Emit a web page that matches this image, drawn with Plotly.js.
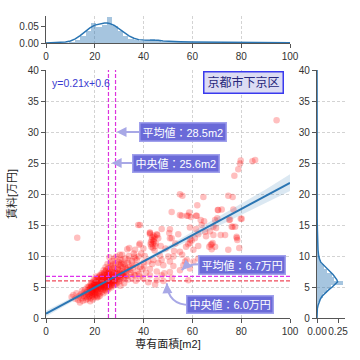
<!DOCTYPE html>
<html><head><meta charset="utf-8">
<script src="https://cdn.plot.ly/plotly-3.0.1.min.js"></script>
<style>html,body{margin:0;padding:0;background:#fff}#c{width:360px;height:360px}</style>
</head><body><div id="c"></div>
<script>
// Scatter points [area m2, rent 万円]
const densePts = [[10.5,3.4],[11.2,3.7],[12.0,3.1],[12.5,4.0],[13.2,2.9],[13.5,3.5],[13.9,2.5],[14.2,3.8],[14.6,3.2],[14.8,4.4],[15.1,2.8],[15.3,3.6],[15.5,4.1],[15.8,3.3],[16.0,4.6],[16.2,3.9],[16.4,2.9],[16.6,3.5],[16.8,4.2],[17.0,5.0],
[17.1,3.1],[17.3,3.8],[17.5,4.5],[17.6,3.4],[17.8,4.0],[17.9,5.2],[18.0,3.6],[18.2,4.3],[18.3,4.9],[18.4,3.2],[18.5,5.5],[18.7,4.1],[18.8,3.7],[18.9,4.6],[19.0,5.0],[19.1,3.5],[19.2,4.4],[19.3,5.8],[19.4,3.9],[19.5,4.8],
[19.6,5.3],[19.7,4.2],[19.8,3.4],[19.9,4.9],[20.0,5.6],[20.0,4.0],[20.1,6.1],[20.2,4.5],[20.3,3.8],[20.4,5.1],[20.5,4.7],[20.6,5.9],[20.7,4.3],[20.8,5.4],[20.9,3.6],[21.0,5.0],[21.1,6.3],[21.2,4.6],[21.3,5.7],[21.4,4.1],
[21.5,5.2],[21.6,6.6],[21.7,4.8],[21.8,5.5],[21.9,3.9],[22.0,6.0],[22.1,5.1],[22.2,4.4],[22.3,6.8],[22.4,5.3],[22.5,4.7],[22.6,5.9],[22.7,6.4],[22.8,5.0],[22.9,4.2],[23.0,5.6],[23.1,7.0],[23.2,5.2],[23.3,6.1],[23.4,4.6],
[23.5,5.8],[23.6,6.7],[23.7,5.4],[23.8,4.9],[23.9,7.3],[24.0,6.2],[24.1,5.5],[24.2,4.5],[24.3,6.5],[24.4,5.9],[24.5,7.6],[24.6,5.1],[24.7,6.0],[24.8,6.9],[24.9,5.3],[25.0,6.3],[25.1,4.8],[25.2,7.1],[25.3,5.7],[25.4,6.6],
[25.5,8.0],[25.6,6.0],[25.7,5.4],[25.8,7.4],[25.9,6.2],[26.0,5.0],[26.1,6.8],[26.2,5.8],[26.3,7.7],[26.4,6.4],[26.5,5.5],[26.6,8.3],[26.7,6.1],[26.8,7.0],[26.9,5.2],[27.0,6.6],[27.1,7.9],[27.2,5.9],[27.3,6.9],[27.4,8.6],
[27.5,6.3],[27.6,5.6],[27.7,7.2],[27.8,6.0],[27.9,8.1],[28.0,6.7],[28.2,7.5],[28.4,5.8],[28.6,8.8],[28.8,6.5],[29.0,7.3],[29.2,6.2],[29.4,8.0],[29.6,7.0],[29.8,9.0],[30.0,6.8],[30.2,7.8],[30.4,6.4],[30.6,8.4],[30.8,7.1],
[31.0,9.3],[31.3,7.6],[31.6,6.9],[31.9,8.7],[32.2,7.4],[32.5,9.6],[32.8,8.0],[33.1,6.8],[33.4,8.9],[33.7,7.7],[34.0,10.0],[34.4,8.3],[34.8,7.3],[35.2,9.2],[35.6,8.1],[36.0,7.0],[36.5,9.6],[37.0,8.5],[37.5,7.6],[38.0,9.9],
[38.5,8.2],[39.0,10.4],[39.5,7.9],[40.0,9.0]];
const corePts = [[18.1,4.7],[18.6,5.1],[19.2,3.0],[19.7,5.6],[20.3,4.9],[20.8,3.3],[21.2,5.4],[21.7,6.0],[22.1,3.6],[22.6,4.9],[23.0,6.6],[23.5,4.0],[23.9,5.1],[24.3,5.7],[24.7,4.3],[25.1,5.9],[25.5,4.6],[25.9,7.0],[26.3,5.3],[26.7,4.9],
[27.1,6.3],[27.5,7.4],[27.9,5.3],[28.3,6.1],[28.7,7.1],[29.1,5.6],[29.5,6.6],[29.9,5.9],[30.3,7.3],[30.7,6.1],[31.1,7.0],[31.5,8.2],[31.9,6.4],[32.3,8.5],[32.7,7.0],[33.2,7.9],[33.8,9.4],[34.6,7.8],[35.4,8.6],[36.2,9.9],
[17.4,4.9],[18.1,2.7],[19.0,4.1],[19.9,5.3],[20.6,4.4],[21.4,3.4],[22.2,5.7],[22.9,5.4],[23.7,6.3],[24.5,4.9],[25.3,6.7],[26.1,5.6],[26.9,6.0],[27.7,6.6],[28.5,5.5],[29.3,7.9],[30.1,6.3],[30.9,8.8],[31.7,7.2],[32.5,6.6],
[24.0,7.0],[24.8,7.8],[25.6,7.3],[26.4,8.8],[27.2,9.2],[28.0,9.6],[28.8,9.9],[29.6,8.6],[30.4,9.4],[31.2,10.2],[26.0,9.8],[25.2,8.7],[24.4,8.2],[23.6,7.7],[22.8,7.2],[22.0,6.9],[21.2,6.4],[20.4,6.7],[19.6,6.2],[18.8,5.7]];
const edgePts = [[30.5,5.2],[32.0,5.6],[33.5,6.2],[35.0,6.6],[36.8,6.0],[38.2,7.1],[39.8,6.4],[41.0,7.3],[42.6,6.9],[41.9,5.75],[44.7,5.4],[45.4,6.1],[48.1,5.95],[47.4,6.9],[42.6,7.9],[45.4,7.5],[50.8,7.4],[54.9,7.7],[58.3,6.1],[38.5,6.7],[36.5,6.9],
[48.5,7.2],[51.6,6.5],[40.2,8.3],[43.5,8.7],[46.0,8.9]];
const sparsePts = [[38.2,11.8],[39.9,11.2],[36.5,11.0],[33.3,11.1],[34.1,11.3],[30.3,10.2],[36.0,10.4],[37.2,9.35],[42.6,13.5],[43.3,12.6],[43.7,11.9],[42.9,11.9],[45.6,13.4],[46.0,12.85],[42.6,13.8],[43.5,13.0],[44.2,12.3],[44.8,11.6],[43.0,12.2],[44.0,13.3],[45.0,12.0],[44.5,10.9],[43.8,11.3],
[44.3,12.8],[43.9,12.5],[44.6,13.1],[43.2,11.5],
[50.8,14.3],[47.4,14.35],[54.2,13.5],[50.5,13.7],[50.8,12.85],[61.5,14.35],[62.4,13.5],[67.2,14.0],[67.9,11.9],[69.3,11.5],[67.9,11.1],[58.3,11.9],[57.4,11.5],[54.9,10.7],[52.2,9.9],[50.1,9.9],[46.7,10.05],[47.4,9.35],[44.0,9.35],[41.9,9.1],[50.8,9.1],[57.0,9.1],[48.1,8.5],[52.2,8.4],[60.4,9.1],[62.4,9.6],[57.7,9.35],[56.3,8.5],[59.0,8.0],
[37.8,15.0],[38.5,12.0],[12.8,12.95],[51.5,17.1],[54.9,16.6],[57.7,16.5],[55.6,16.5],[58.3,16.5],[58.7,17.0],[61.5,16.5],[64.8,15.6],[70.2,16.1],[59.0,14.6],[63.4,15.8],[65.2,13.9],[68.6,13.4],[69.7,14.5],[73.4,13.4],[76.5,14.7],[78.2,12.9],[80.2,16.0],[76.8,17.5],[70.4,17.4],[75.1,15.8],[63.8,15.0],[68.6,14.7],[71.6,13.4],[65.6,13.2],[59.0,12.7],[59.7,12.5],[59.0,12.1],[62.4,11.6],[68.3,12.1],[67.5,11.8],[66.9,11.5],[78.1,13.1],[78.4,12.6],[74.7,11.0],[79.2,11.3],[60.4,11.0],[61.0,12.85],
[54.9,19.95],[55.9,19.7],[64.5,19.5],[74.7,19.7],[76.5,19.5],[62.0,18.2],[70.6,17.4],[61.8,16.5],[69.3,15.8],[75.4,15.9],[79.8,16.0],[76.1,14.7],[77.5,14.7],[59.4,16.3],[72.0,17.5],
[79.8,25.4],[79.5,24.9],[84.6,25.3],[85.7,25.5],[78.8,24.0],[77.2,22.95],[94.5,31.9],
[42.6,13.7],[45.4,13.5],[38.5,15.0],[51.5,12.85],[53.0,12.0],[49.0,11.2],[47.0,11.6],[40.5,10.0],[52.5,10.8],[55.8,10.2]];

// Regression line and 95% band
const lineX = [0, 100];
const lineY = [0.7, 21.8];
const bandX = [0, 10, 20, 30, 40, 50, 60, 70, 80, 90, 100];
const bandUpper = [1.15, 3.13, 5.12, 7.18, 9.36, 11.63, 13.89, 16.17, 18.44, 20.72, 23.2];
const bandLower = [0.25, 2.49, 4.72, 6.88, 8.92, 10.87, 12.83, 14.77, 16.72, 18.66, 20.5];

// Top marginal: histogram (bin centers, density) and KDE of area
const topBinCenters = [10.7,12.9,15.1,17.3,19.5,21.7,23.9,26.1,28.3,30.5,32.7,34.9,37.1,39.3,41.5,43.7,45.9,48.1,50.3,52.5,54.7,56.9,59.1,61.3,63.5,65.7,67.9,70.1,72.3,74.5,76.7,78.9,83.3,85.5,94.3];
const topBinHeights = [0.003,0.008,0.02,0.035,0.06,0.048,0.052,0.077,0.05,0.035,0.022,0.012,0.008,0.006,0.009,0.013,0.006,0.004,0.004,0.003,0.004,0.004,0.004,0.004,0.003,0.002,0.003,0.003,0.001,0.002,0.003,0.003,0.001,0.002,0.001];
const kdeTopX = [0,5,8,10,12,14,16,18,20,22,24,25,26,28,30,32,34,36,38,40,42,44,46,48,50,55,60,65,70,75,80,85,90,95,100];
const kdeTopY = [0.0003,0.001,0.003,0.006,0.012,0.022,0.034,0.045,0.053,0.057,0.059,0.059,0.058,0.052,0.042,0.031,0.021,0.014,0.010,0.009,0.009,0.009,0.008,0.006,0.005,0.004,0.003,0.003,0.0025,0.002,0.002,0.0015,0.001,0.001,0.0008];

// Right marginal: histogram and KDE of rent
const rightBinCenters = [2.3,2.97,3.63,4.3,4.97,5.63,6.3,6.97,7.63,8.3,8.97,9.63,10.3,10.97,11.63,12.3,12.97,13.63,14.3,14.97,15.63,16.3,16.97,17.63,19.63,22.97,24.97,25.63,31.97];
const rightBinHeights = [0.015,0.04,0.07,0.12,0.17,0.31,0.2,0.18,0.12,0.08,0.045,0.03,0.015,0.012,0.01,0.008,0.008,0.007,0.005,0.004,0.004,0.004,0.004,0.003,0.003,0.001,0.002,0.002,0.001];
const kdeRightY = [0,1,1.5,2,2.5,3,3.5,4,4.5,5,5.5,5.85,6.2,6.6,7,7.5,8,8.5,9,9.5,10,11,12,13,14,15,16,18,20,25,30,35,40];
const kdeRightX = [0,0.001,0.004,0.012,0.022,0.038,0.06,0.095,0.135,0.18,0.225,0.245,0.235,0.215,0.19,0.155,0.115,0.075,0.045,0.03,0.02,0.012,0.008,0.006,0.004,0.003,0.002,0.0015,0.001,0.0007,0.0005,0.0002,0.0001];

// Statistics
const meanArea = 28.5, medianArea = 25.6, meanRent = 6.7, medianRent = 6.0;
const eqText = 'y=0.21x+0.6';
const areaName = '京都市下京区';

const allPts = densePts.concat(corePts, edgePts, sparsePts);
const blue = '#2a75b3';
const histCol = 'rgba(42,117,179,0.42)';

const traces = [
  {type:'scatter', mode:'markers', x:allPts.map(p=>p[0]), y:allPts.map(p=>p[1]), xaxis:'x', yaxis:'y',
   marker:{size:6.5, color:'rgba(255,0,0,0.25)', line:{width:0}}, hoverinfo:'skip'},
  {type:'scatter', mode:'lines', x:bandX, y:bandLower, line:{width:0}, xaxis:'x', yaxis:'y', hoverinfo:'skip'},
  {type:'scatter', mode:'lines', x:bandX, y:bandUpper, line:{width:0}, fill:'tonexty', fillcolor:'rgba(42,117,179,0.17)', xaxis:'x', yaxis:'y', hoverinfo:'skip'},
  {type:'scatter', mode:'lines', x:lineX, y:lineY, line:{color:blue, width:2}, xaxis:'x', yaxis:'y'},
  {type:'bar', x:topBinCenters, y:topBinHeights, width:2.2, marker:{color:histCol, line:{width:0}}, xaxis:'x2', yaxis:'y2'},
  {type:'scatter', mode:'lines', x:kdeTopX, y:kdeTopY, line:{color:blue, width:1.5}, xaxis:'x2', yaxis:'y2'},
  {type:'bar', orientation:'h', y:rightBinCenters, x:rightBinHeights, width:0.667, marker:{color:histCol, line:{width:0}}, xaxis:'x3', yaxis:'y3'},
  {type:'scatter', mode:'lines', x:kdeRightX, y:kdeRightY, line:{color:blue, width:1.5}, xaxis:'x3', yaxis:'y3'}
];

const axCommon = {showline:true, linecolor:'#555', linewidth:1.2, ticks:'outside', ticklen:4, tickcolor:'#555', zeroline:false,
  gridcolor:'#c8c8c8', griddash:'3px,2px', gridwidth:0.8, tickfont:{size:10, color:'#333'}, tickangle:0};
const mainXd = [46/360, 290/360];
const mainYd = [1-318/360, 1-70/360];

const layout = {
  width:360, height:360, margin:{l:0,r:0,t:0,b:0},
  paper_bgcolor:'#ffffff', plot_bgcolor:'#ffffff', showlegend:false, bargap:0,
  font:{family:'Liberation Sans, Noto Sans CJK JP, sans-serif', size:10, color:'#333'},
  xaxis:Object.assign({}, axCommon, {domain:mainXd, range:[0,100], anchor:'y', dtick:20, showgrid:true,
    title:{text:'専有面積[m2]', font:{size:11, color:'#222'}, standoff:4}}),
  yaxis:Object.assign({}, axCommon, {domain:mainYd, range:[0,40], anchor:'x', dtick:5, showgrid:true,
    title:{text:'賃料[万円]', font:{size:11, color:'#222'}, standoff:8}}),
  xaxis2:Object.assign({}, axCommon, {domain:mainXd, range:[0,100], anchor:'y2', dtick:20, showgrid:true}),
  yaxis2:Object.assign({}, axCommon, {domain:[1-43/360, 1-16/360], range:[0,0.08], anchor:'x2', tickvals:[0,0.05], tickformat:'.2f', showgrid:false}),
  xaxis3:Object.assign({}, axCommon, {domain:[317/360, 345/360], range:[0,0.333], anchor:'y3', tickvals:[0,0.25], tickformat:'.2f', showgrid:false, tickangle:0}),
  yaxis3:Object.assign({}, axCommon, {domain:mainYd, range:[0,40], anchor:'x3', dtick:5, showgrid:true}),
  shapes:[
    {type:'line', xref:'x', yref:'y', x0:medianArea, x1:medianArea, y0:0, y1:40, line:{color:'#dd33dd', width:1.2, dash:'4px,2px'}},
    {type:'line', xref:'x', yref:'y', x0:meanArea, x1:meanArea, y0:0, y1:40, line:{color:'#dd33dd', width:1.2, dash:'4px,2px'}},
    {type:'line', xref:'x', yref:'y', x0:0, x1:100, y0:meanRent, y1:meanRent, line:{color:'#dd33ee', width:1.2, dash:'4px,2px'}},
    {type:'line', xref:'x', yref:'y', x0:0, x1:100, y0:medianRent, y1:medianRent, line:{color:'#f04a5a', width:1.2, dash:'4px,2px'}},
    {type:'path', xref:'x', yref:'y', path:'M 63.1,8.66 Q 58.2,8.71 55.6,7.74', line:{color:'#a8a8e6', width:2}},
    {type:'path', xref:'x', yref:'y', path:'M 59.0,2.10 Q 50.0,2.10 49.5,5.6', line:{color:'#a8a8e6', width:2}}
  ],
  annotations:[
    {xref:'x', yref:'y', x:1.6, y:37.9, xanchor:'left', yanchor:'middle', text:eqText, showarrow:false, font:{size:10.5, color:'#3a3ad0'}},
    {xref:'x', yref:'y', x:81.1, y:37.95, text:areaName, showarrow:false, font:{size:12, color:'#26267a'},
     bgcolor:'#dcdcf3', bordercolor:'#3a3aee', borderwidth:1.5, borderpad:3},
    {xref:'x', yref:'y', x:28.9, y:30, ax:66, ay:0, text:'平均値：28.5m2', showarrow:true, arrowhead:2, arrowsize:1, arrowwidth:2, arrowcolor:'#a8a8e6',
     font:{size:11, color:'#ffffff'}, bgcolor:'#6a6ad8', bordercolor:'#a0a0ec', borderwidth:1.5, borderpad:2},
    {xref:'x', yref:'y', x:26.9, y:25, ax:64, ay:0, text:'中央値：25.6m2', showarrow:true, arrowhead:2, arrowsize:1, arrowwidth:2, arrowcolor:'#a8a8e6',
     font:{size:11, color:'#ffffff'}, bgcolor:'#6a6ad8', bordercolor:'#a0a0ec', borderwidth:1.5, borderpad:2},
    {xref:'x', yref:'y', x:80.2, y:8.6, text:'平均値：6.7万円', showarrow:false,
     font:{size:11, color:'#ffffff'}, bgcolor:'#6a6ad8', bordercolor:'#a0a0ec', borderwidth:1.5, borderpad:2},
    {xref:'x', yref:'y', x:75.4, y:2.2, text:'中央値：6.0万円', showarrow:false,
     font:{size:11, color:'#ffffff'}, bgcolor:'#6a6ad8', bordercolor:'#a0a0ec', borderwidth:1.5, borderpad:2},
    {xref:'x', yref:'y', x:55.6, y:7.74, ax:7, ay:-6.6, text:'', showarrow:true, arrowhead:2, arrowsize:1, arrowwidth:2, arrowcolor:'#a8a8e6'},
    {xref:'x', yref:'y', x:49.5, y:5.6, ax:0.5, ay:8, text:'', showarrow:true, arrowhead:2, arrowsize:1, arrowwidth:2, arrowcolor:'#a8a8e6'}
  ]
};

Plotly.newPlot('c', traces, layout, {staticPlot:true, displayModeBar:false});
</script>
</body></html>
